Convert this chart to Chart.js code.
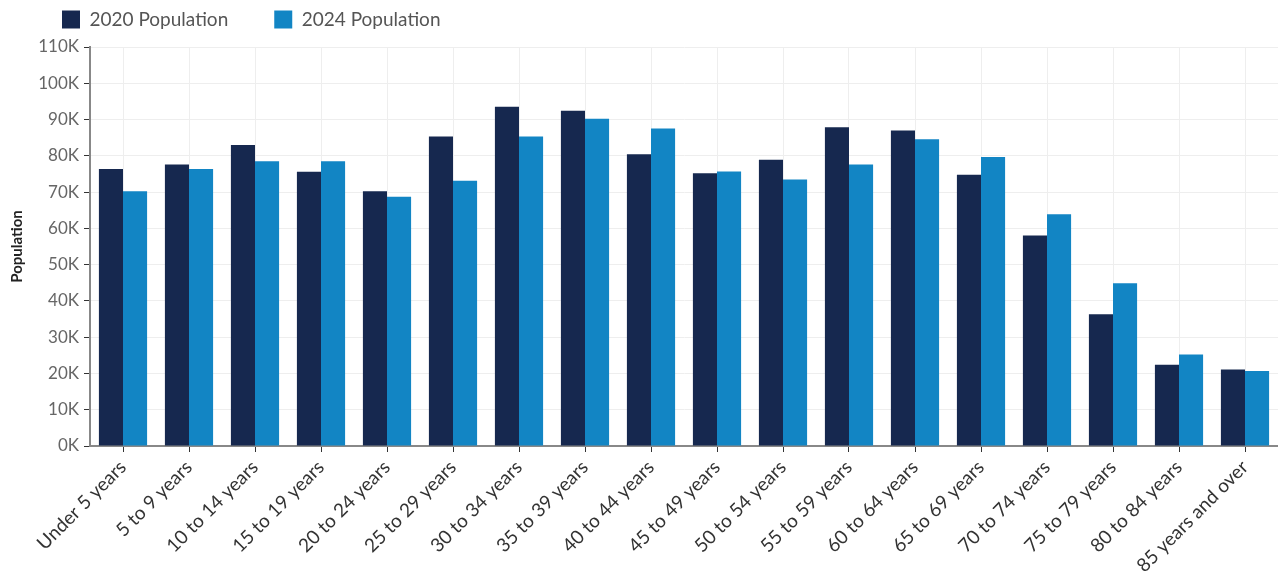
<!DOCTYPE html>
<html>
<head>
<meta charset="utf-8">
<script src="https://cdn.jsdelivr.net/npm/chart.js@4"></script>
<style>
  html, body { margin: 0; padding: 0; background: #fff; }
  #wrap { width: 1278px; height: 571px; }
</style>
</head>
<body>
<div id="wrap"><canvas id="popChart"></canvas></div>
<script>
// age groups
let age_groups = ['Under 5 years', '5 to 9 years', '10 to 14 years', '15 to 19 years', '20 to 24 years',
  '25 to 29 years', '30 to 34 years', '35 to 39 years', '40 to 44 years', '45 to 49 years',
  '50 to 54 years', '55 to 59 years', '60 to 64 years', '65 to 69 years', '70 to 74 years',
  '75 to 79 years', '80 to 84 years', '85 years and over'];

// values
let pop_2020 = [76400, 77600, 83000, 75600, 70200, 85300, 93500, 92400, 80400, 75200,
  78900, 87900, 87000, 74800, 58000, 36300, 22400, 21100];
let pop_2024 = [70200, 76400, 78500, 78500, 68700, 73100, 85300, 90200, 87500, 75700,
  73500, 77600, 84600, 79700, 63900, 44900, 25200, 20700];

let series_labels = ['2020 Population', '2024 Population'];
let y_max = 110000;
let y_step = 10000;

// move the legend so it starts where the original one does
const legendShift = {
  id: 'legendShift',
  afterLayout(chart) {
    chart.legend.left = 16;
    chart.legend.top = -36;
  }
};

const ctx = document.getElementById('popChart');

new Chart(ctx, {
  type: 'bar',
  data: {
    labels: age_groups,
    datasets: [{
      label: series_labels[0],
      data: pop_2020,
      backgroundColor: '#16284f'
    }, {
      label: series_labels[1],
      data: pop_2024,
      backgroundColor: '#1285c4'
    }]
  },
  options: {
    responsive: true,
    maintainAspectRatio: false,
    animation: false,
    categoryPercentage: 0.73,
    barPercentage: 1.0,
    layout: { padding: { left: 0, right: 0, top: 0, bottom: 0 } },
    plugins: {
      legend: {
        align: 'start',
        maxHeight: 47,
        labels: {
          boxWidth: 18,
          boxHeight: 18,
          padding: 46,
          color: '#555',
          font: { family: 'Lato', size: 19 }
        }
      },
      tooltip: { enabled: false }
    },
    scales: {
      x: {
        grid: {
          offset: false,
          color: '#eeeeee',
          tickColor: '#333',
          tickLength: 6
        },
        border: { color: '#888', width: 2 },
        ticks: {
          color: '#333',
          minRotation: 45,
          maxRotation: 45,
          padding: 4,
          font: { family: 'Lato', size: 19 }
        },
        afterFit(scale) { scale.height = 125; }
      },
      y: {
        min: 0,
        max: y_max,
        grid: {
          color: '#eeeeee',
          tickColor: '#333',
          tickLength: 6
        },
        border: { color: '#888', width: 2 },
        ticks: {
          stepSize: y_step,
          color: '#666',
          padding: 5,
          font: { family: 'Lato', size: 17 },
          callback: function(v) { return (v / 1000) + 'K'; }
        },
        title: {
          display: true,
          text: 'Population',
          color: '#222',
          padding: { top: 8, bottom: 4 },
          font: { family: 'Lato', size: 15, weight: 'bold' }
        },
        afterFit(scale) { scale.width = 90; }
      }
    }
  },
  plugins: [legendShift]
});
</script>
</body>
</html>
